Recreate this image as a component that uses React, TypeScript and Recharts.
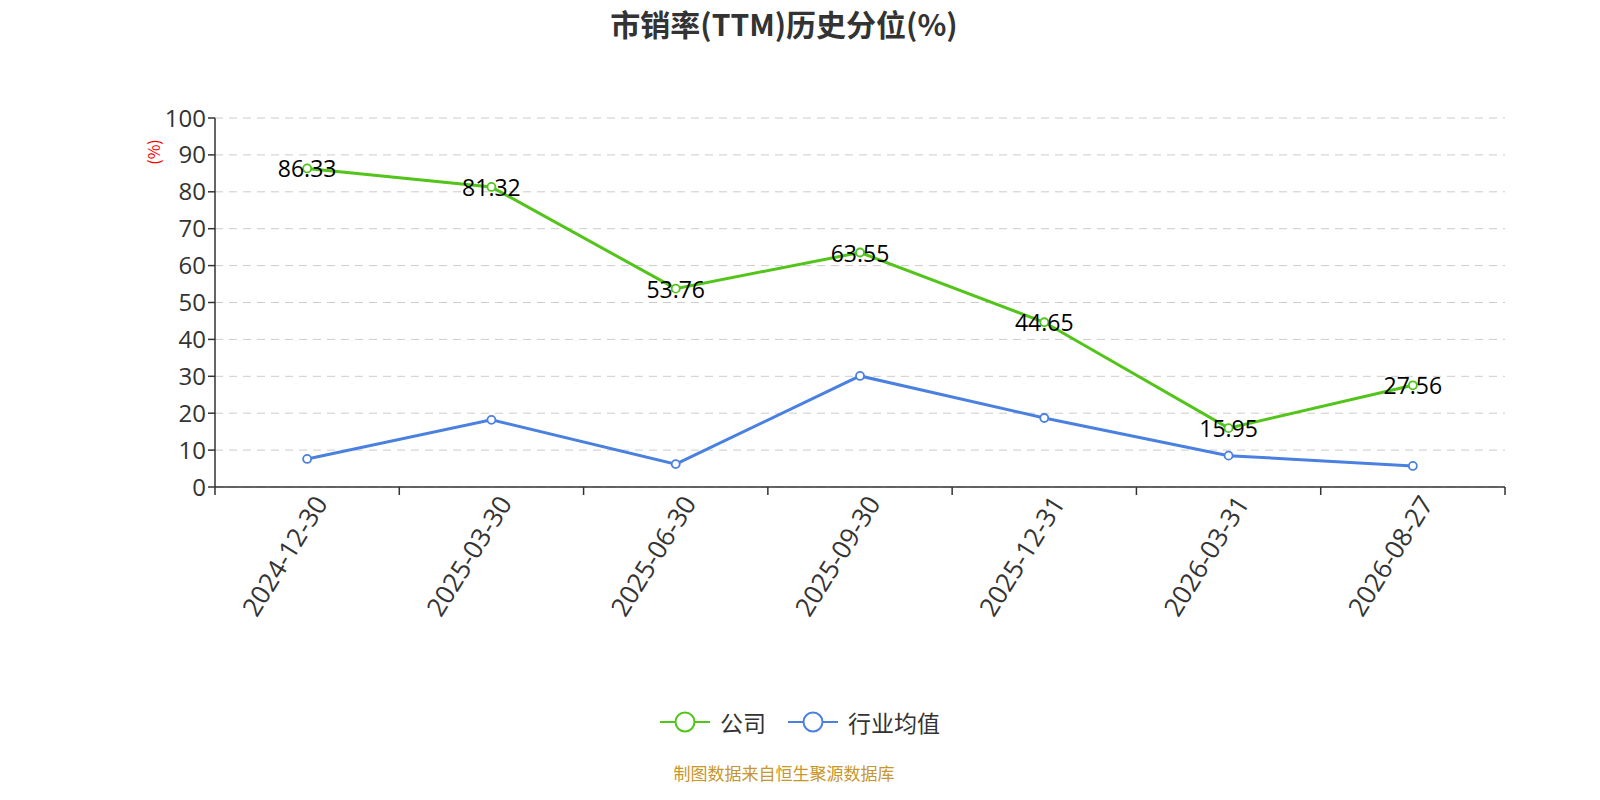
import { CartesianGrid, LabelList, Line, LineChart, XAxis, YAxis } from "recharts";

const FONT = '"Open Sans", "Noto Sans CJK SC", sans-serif';
const CJK = '"Noto Sans CJK SC", "Open Sans", sans-serif';

const dates = ["2024-12-30", "2025-03-30", "2025-06-30", "2025-09-30", "2025-12-31", "2026-03-31", "2026-08-27"];
const company = [86.33, 81.32, 53.76, 63.55, 44.65, 15.95, 27.56];
const industry = [7.6, 18.2, 6.2, 30.1, 18.7, 8.5, 5.7];
const yTicks = [0, 10, 20, 30, 40, 50, 60, 70, 80, 90, 100];

const GREEN = "#52c41a";
const BLUE = "#4a80e0";
const PLOT_W = 1290;
const HALF_BAND = PLOT_W / dates.length / 2;

const rows = dates.map((d, i) => ({ date: d, company: company[i], industry: industry[i] }));

function DateTick(props: any) {
  const { x, y, payload, index } = props;
  const ax = x + 13;
  const ay = y + 3;
  return (
    <g>
      <line x1={x - HALF_BAND} x2={x - HALF_BAND} y1={y - 8} y2={y} stroke="#333" strokeWidth={1.5} />
      {index === dates.length - 1 ? (
        <line x1={x + HALF_BAND} x2={x + HALF_BAND} y1={y - 8} y2={y} stroke="#333" strokeWidth={1.5} />
      ) : null}
      <text
        x={ax}
        y={ay}
        transform={`rotate(-58 ${ax} ${ay})`}
        textAnchor="end"
        dominantBaseline="central"
        fontSize={26}
        fill="#333"
        fontFamily={FONT}
      >
        {payload.value}
      </text>
    </g>
  );
}

function PointLabel(props: any) {
  const { x, y, value } = props;
  return (
    <text x={x} y={y} textAnchor="middle" dominantBaseline="central" fontSize={23} fill="#000" fontFamily={FONT}>
      {value}
    </text>
  );
}

function LegendBox() {
  const items = [
    { name: "公司", color: GREEN },
    { name: "行业均值", color: BLUE },
  ];
  return (
    <div style={{ display: "flex", justifyContent: "center", gap: 22, fontFamily: CJK, fontSize: 23, color: "#333" }}>
      {items.map((it) => (
        <div key={it.name} style={{ display: "flex", alignItems: "center", gap: 10 }}>
          <svg width={50} height={24}>
            <line x1={0} x2={50} y1={12} y2={12} stroke={it.color} strokeWidth={2} />
            <circle cx={25} cy={12} r={9.5} fill="#fff" stroke={it.color} strokeWidth={2} />
          </svg>
          <span>{it.name}</span>
        </div>
      ))}
    </div>
  );
}

export default function App() {
  return (
    <div style={{ position: "absolute", left: 0, top: 0, width: 1600, height: 800, background: "#fff", fontFamily: CJK }}>
      <div
        style={{
          position: "absolute",
          top: 1,
          left: 0,
          width: 1568,
          textAlign: "center",
          fontSize: 30,
          fontWeight: "bold",
          color: "#333",
          fontFamily: CJK,
        }}
      >
        市销率(TTM)历史分位(%)
      </div>
      <div
        style={{
          position: "absolute",
          left: 153,
          top: 152,
          transform: "translate(-50%, -50%) rotate(-90deg)",
          color: "red",
          fontSize: 16,
        }}
      >
        (%)
      </div>
      <LineChart width={1600} height={800} data={rows} margin={{ top: 118, right: 95, left: 0, bottom: 0 }}>
        <CartesianGrid horizontal vertical={false} stroke="#ccc" strokeDasharray="8 6" />
        <XAxis
          dataKey="date"
          height={313}
          interval={0}
          padding={{ left: HALF_BAND, right: HALF_BAND }}
          axisLine={{ stroke: "#333", strokeWidth: 1.5 }}
          tickLine={false}
          tick={<DateTick />}
        />
        <YAxis
          width={215}
          domain={[0, 100]}
          ticks={yTicks}
          interval={0}
          axisLine={{ stroke: "#333", strokeWidth: 1.5 }}
          tickLine={{ stroke: "#333", strokeWidth: 1.5 }}
          tickSize={7}
          tick={{ fontSize: 24, fill: "#333", fontFamily: FONT }}
        />
        <Line
          dataKey="industry"
          name="行业均值"
          stroke={BLUE}
          strokeWidth={3}
          dot={{ r: 4, fill: "#fff", stroke: BLUE, strokeWidth: 1.8 }}
          isAnimationActive={false}
        />
        <Line
          dataKey="company"
          name="公司"
          stroke={GREEN}
          strokeWidth={3}
          dot={{ r: 4, fill: "#fff", stroke: GREEN, strokeWidth: 1.8 }}
          isAnimationActive={false}
        >
          <LabelList dataKey="company" content={<PointLabel />} />
        </Line>
      </LineChart>
      <div style={{ position: "absolute", top: 705, left: 0, width: 1600 }}>
        <LegendBox />
      </div>
      <div
        style={{
          position: "absolute",
          top: 760,
          left: 0,
          width: 1568,
          textAlign: "center",
          fontSize: 17,
          color: "#c8962a",
        }}
      >
        制图数据来自恒生聚源数据库
      </div>
    </div>
  );
}
